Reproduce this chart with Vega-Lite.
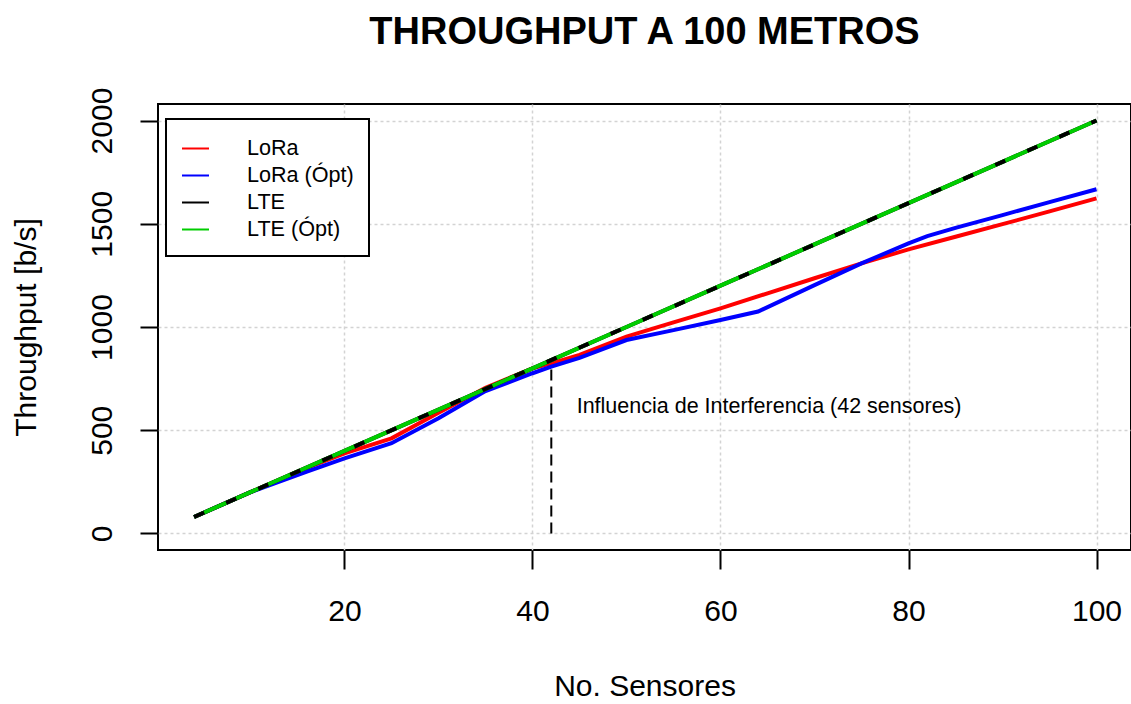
{
  "$schema": "https://vega.github.io/schema/vega-lite/v6.json",
  "width": 973,
  "height": 446,
  "autosize": {"type": "none"},
  "padding": {"left": 158, "top": 104, "right": 0, "bottom": 154},
  "background": "white",
  "config": {
    "font": "Liberation Sans",
    "view": {"stroke": "black", "strokeWidth": 2}
  },
  "title": {
    "text": "THROUGHPUT A 100 METROS",
    "fontSize": 38,
    "fontWeight": "bold",
    "font": "Liberation Sans",
    "color": "black",
    "anchor": "middle",
    "frame": "group",
    "baseline": "alphabetic",
    "offset": 5
  },
  "datasets": {
    "series": [
      {"n": 4, "serie": "LoRa", "tp": 80},
      {"n": 10, "serie": "LoRa", "tp": 200},
      {"n": 16, "serie": "LoRa", "tp": 318},
      {"n": 20, "serie": "LoRa", "tp": 388},
      {"n": 25, "serie": "LoRa", "tp": 461},
      {"n": 30, "serie": "LoRa", "tp": 585},
      {"n": 35, "serie": "LoRa", "tp": 705},
      {"n": 40, "serie": "LoRa", "tp": 800},
      {"n": 42, "serie": "LoRa", "tp": 824},
      {"n": 45, "serie": "LoRa", "tp": 865},
      {"n": 50, "serie": "LoRa", "tp": 953},
      {"n": 55, "serie": "LoRa", "tp": 1022},
      {"n": 60, "serie": "LoRa", "tp": 1090},
      {"n": 65, "serie": "LoRa", "tp": 1163},
      {"n": 70, "serie": "LoRa", "tp": 1236},
      {"n": 75, "serie": "LoRa", "tp": 1308},
      {"n": 80, "serie": "LoRa", "tp": 1376},
      {"n": 85, "serie": "LoRa", "tp": 1437},
      {"n": 90, "serie": "LoRa", "tp": 1498},
      {"n": 95, "serie": "LoRa", "tp": 1560},
      {"n": 100, "serie": "LoRa", "tp": 1623},
      {"n": 4, "serie": "LoRa (Ópt)", "tp": 80},
      {"n": 10, "serie": "LoRa (Ópt)", "tp": 200},
      {"n": 16, "serie": "LoRa (Ópt)", "tp": 299},
      {"n": 20, "serie": "LoRa (Ópt)", "tp": 364},
      {"n": 25, "serie": "LoRa (Ópt)", "tp": 437},
      {"n": 30, "serie": "LoRa (Ópt)", "tp": 558},
      {"n": 35, "serie": "LoRa (Ópt)", "tp": 690},
      {"n": 40, "serie": "LoRa (Ópt)", "tp": 776},
      {"n": 42, "serie": "LoRa (Ópt)", "tp": 808},
      {"n": 45, "serie": "LoRa (Ópt)", "tp": 850},
      {"n": 50, "serie": "LoRa (Ópt)", "tp": 937},
      {"n": 55, "serie": "LoRa (Ópt)", "tp": 985},
      {"n": 60, "serie": "LoRa (Ópt)", "tp": 1034},
      {"n": 64, "serie": "LoRa (Ópt)", "tp": 1075},
      {"n": 70, "serie": "LoRa (Ópt)", "tp": 1203},
      {"n": 75, "serie": "LoRa (Ópt)", "tp": 1308},
      {"n": 80, "serie": "LoRa (Ópt)", "tp": 1405},
      {"n": 82, "serie": "LoRa (Ópt)", "tp": 1440},
      {"n": 85, "serie": "LoRa (Ópt)", "tp": 1480},
      {"n": 90, "serie": "LoRa (Ópt)", "tp": 1542},
      {"n": 95, "serie": "LoRa (Ópt)", "tp": 1605},
      {"n": 100, "serie": "LoRa (Ópt)", "tp": 1667},
      {"n": 4, "serie": "LTE", "tp": 80},
      {"n": 10, "serie": "LTE", "tp": 200},
      {"n": 20, "serie": "LTE", "tp": 400},
      {"n": 30, "serie": "LTE", "tp": 600},
      {"n": 40, "serie": "LTE", "tp": 800},
      {"n": 50, "serie": "LTE", "tp": 1000},
      {"n": 60, "serie": "LTE", "tp": 1200},
      {"n": 70, "serie": "LTE", "tp": 1400},
      {"n": 80, "serie": "LTE", "tp": 1600},
      {"n": 90, "serie": "LTE", "tp": 1800},
      {"n": 100, "serie": "LTE", "tp": 2000},
      {"n": 4, "serie": "LTE (Ópt)", "tp": 80},
      {"n": 10, "serie": "LTE (Ópt)", "tp": 200},
      {"n": 20, "serie": "LTE (Ópt)", "tp": 400},
      {"n": 30, "serie": "LTE (Ópt)", "tp": 600},
      {"n": 40, "serie": "LTE (Ópt)", "tp": 800},
      {"n": 50, "serie": "LTE (Ópt)", "tp": 1000},
      {"n": 60, "serie": "LTE (Ópt)", "tp": 1200},
      {"n": 70, "serie": "LTE (Ópt)", "tp": 1400},
      {"n": 80, "serie": "LTE (Ópt)", "tp": 1600},
      {"n": 90, "serie": "LTE (Ópt)", "tp": 1800},
      {"n": 100, "serie": "LTE (Ópt)", "tp": 2000}
    ],
    "marker": [{"n": 42, "tp": 0, "tp2": 808}],
    "note": [{"n": 44.7, "tp": 585, "label": "Influencia de Interferencia (42 sensores)"}]
  },
  "encoding": {
    "x": {
      "field": "n",
      "type": "quantitative",
      "scale": {"domain": [0.16, 103.67], "nice": false, "zero": false},
      "axis": {
        "title": "No. Sensores",
        "values": [20, 40, 60, 80, 100],
        "format": "d",
        "domain": false,
        "tickSize": 19,
        "tickWidth": 2,
        "tickColor": "black",
        "labelFontSize": 30,
        "labelColor": "black",
        "labelBaseline": "alphabetic",
        "labelPadding": 51,
        "labelFlush": false,
        "grid": true,
        "gridColor": "#D3D3D3",
        "gridDash": [3, 3],
        "gridWidth": 1.5,
        "titleFontSize": 30,
        "titleFontWeight": "normal",
        "titleColor": "black",
        "titleBaseline": "alphabetic",
        "titleY": 145
      }
    },
    "y": {
      "field": "tp",
      "type": "quantitative",
      "scale": {"domain": [-80, 2080], "nice": false, "zero": false},
      "axis": {
        "title": "Throughput [b/s]",
        "values": [0, 500, 1000, 1500, 2000],
        "format": "d",
        "domain": false,
        "tickSize": 18,
        "tickWidth": 2,
        "tickColor": "black",
        "labelFontSize": 30,
        "labelColor": "black",
        "labelAngle": 270,
        "labelAlign": "center",
        "labelBaseline": "alphabetic",
        "labelPadding": 29,
        "labelFlush": false,
        "grid": true,
        "gridColor": "#D3D3D3",
        "gridDash": [3, 3],
        "gridWidth": 1.5,
        "titleFontSize": 30,
        "titleFontWeight": "normal",
        "titleColor": "black",
        "titleAngle": 270,
        "titleAlign": "center",
        "titleBaseline": "alphabetic",
        "titleX": -123,
        "titleY": 223
      }
    }
  },
  "layer": [
    {
      "data": {"name": "marker"},
      "mark": {"type": "rule", "strokeDash": [11, 6], "strokeWidth": 2, "color": "black"},
      "encoding": {"y2": {"field": "tp2"}}
    },
    {
      "data": {"name": "series"},
      "mark": {"type": "line", "strokeWidth": 4},
      "encoding": {
        "color": {
          "field": "serie",
          "type": "nominal",
          "scale": {
            "domain": ["LoRa", "LoRa (Ópt)", "LTE", "LTE (Ópt)"],
            "range": ["#FF0000", "#0000FF", "#000000", "#00CD00"]
          },
          "legend": {
            "title": null,
            "orient": "none",
            "legendX": 8,
            "legendY": 15,
            "padding": 15,
            "strokeColor": "black",
            "fillColor": "white",
            "symbolType": "stroke",
            "symbolSize": 729,
            "symbolStrokeWidth": 2,
            "labelFontSize": 21.6,
            "labelColor": "black",
            "labelOffset": 37,
            "rowPadding": 1,
            "encode": {"legend": {"update": {"strokeWidth": {"value": 2}}}}
          }
        }
      }
    },
    {
      "data": {"name": "series"},
      "transform": [{"filter": "datum.serie === 'LTE'"}],
      "mark": {"type": "line", "strokeWidth": 4, "color": "black", "strokeDash": [11, 24]},
      "encoding": {}
    },
    {
      "data": {"name": "note"},
      "mark": {"type": "text", "align": "left", "baseline": "alphabetic", "fontSize": 21.5, "color": "black"},
      "encoding": {"text": {"field": "label"}}
    }
  ]
}
